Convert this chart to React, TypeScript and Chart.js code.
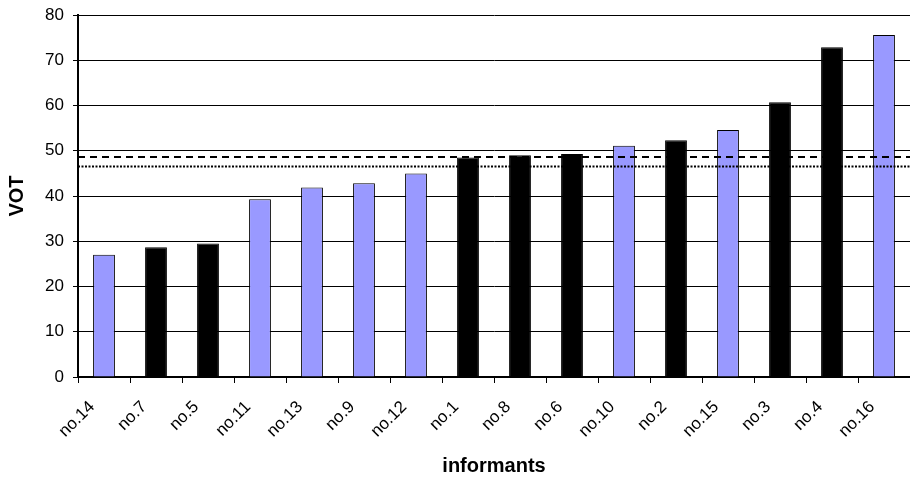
import React, { useEffect, useRef } from "react";
import { Chart, registerables } from "chart.js";

Chart.register(...registerables);

const categories = [
  "no.14", "no.7", "no.5", "no.11", "no.13", "no.9", "no.12", "no.1",
  "no.8", "no.6", "no.10", "no.2", "no.15", "no.3", "no.4", "no.16",
];
const vot = [
  27.0, 28.7, 29.5, 39.3, 41.9, 42.8, 45.0, 48.5,
  49.0, 49.3, 51.1, 52.3, 54.6, 60.7, 72.9, 75.6,
];
// group of each informant: "a" = blue bars, "b" = black bars
const groups = [
  "a", "b", "b", "a", "a", "a", "a", "b",
  "b", "b", "a", "b", "a", "b", "b", "a",
];
const dashedLevel = 48.6;
const dottedLevel = 46.5;
const yTicks = { min: 0, max: 80, step: 10 };

const groupColors: Record<string, string> = { a: "#9999FF", b: "#000000" };
const FONT = "'Liberation Sans', Arial, sans-serif";

export default function App() {
  const ref = useRef<HTMLCanvasElement | null>(null);

  useEffect(() => {
    if (!ref.current) return;
    const chart = new Chart(ref.current, {
      type: "bar",
      data: {
        labels: categories,
        datasets: [
          {
            type: "bar",
            data: vot,
            backgroundColor: groups.map((g) => groupColors[g]),
            borderColor: "#000000",
            borderWidth: 1,
            barPercentage: 0.42,
            categoryPercentage: 1,
            grouped: false,
            order: 2,
            xAxisID: "x",
          } as any,
          {
            type: "line",
            data: [
              { x: 0, y: dashedLevel },
              { x: 1, y: dashedLevel },
            ],
            borderColor: "#000000",
            borderWidth: 2,
            borderDash: [7, 5],
            pointRadius: 0,
            order: 1,
            xAxisID: "x2",
          } as any,
          {
            type: "line",
            data: [
              { x: 0, y: dottedLevel },
              { x: 1, y: dottedLevel },
            ],
            borderColor: "#000000",
            borderWidth: 2,
            borderDash: [2, 1.5],
            pointRadius: 0,
            order: 1,
            xAxisID: "x2",
          } as any,
        ],
      },
      options: {
        animation: false,
        responsive: false,
        layout: { padding: { top: 15, right: 0, left: 0, bottom: 0 } },
        plugins: {
          legend: { display: false },
          tooltip: { enabled: false },
        },
        scales: {
          x: {
            type: "category",
            offset: true,
            grid: {
              display: true,
              drawOnChartArea: false,
              drawTicks: true,
              tickLength: 6,
              color: "#000000",
              offset: true,
            },
            border: { display: true, color: "#000000", width: 2 },
            ticks: {
              autoSkip: false,
              minRotation: 45,
              maxRotation: 45,
              color: "#000000",
              padding: 14,
              labelOffset: -12,
              font: { family: FONT, size: 17 },
            },
            title: {
              display: true,
              text: "informants",
              color: "#000000",
              font: { family: FONT, size: 20, weight: "bold" },
              padding: { top: 0, bottom: 1 },
            },
            afterFit: (s: any) => {
              s.height = 102;
              s.paddingLeft = 0;
              s.paddingRight = 0;
            },
          },
          x2: {
            type: "linear",
            display: false,
            offset: false,
            grid: { offset: false },
            min: 0,
            max: 1,
          },
          y: {
            min: yTicks.min,
            max: yTicks.max,
            grid: {
              color: "#000000",
              lineWidth: 1,
              drawTicks: true,
              tickLength: 5,
            },
            border: { display: true, color: "#000000", width: 2 },
            ticks: {
              stepSize: yTicks.step,
              color: "#000000",
              padding: 9,
              font: { family: FONT, size: 17 },
            },
            title: {
              display: true,
              text: "VOT",
              color: "#000000",
              font: { family: FONT, size: 20, weight: "bold" },
              padding: { top: 5, bottom: 0 },
            },
            afterFit: (s: any) => {
              s.width = 78;
              s.paddingTop = 0;
              s.paddingBottom = 0;
            },
          },
        },
      },
    });
    return () => chart.destroy();
  }, []);

  return (
    <div style={{ position: "absolute", left: 0, top: 0, width: 910, height: 479, background: "#fff" }}>
      <canvas ref={ref} width={910} height={479} style={{ display: "block" }} />
    </div>
  );
}
